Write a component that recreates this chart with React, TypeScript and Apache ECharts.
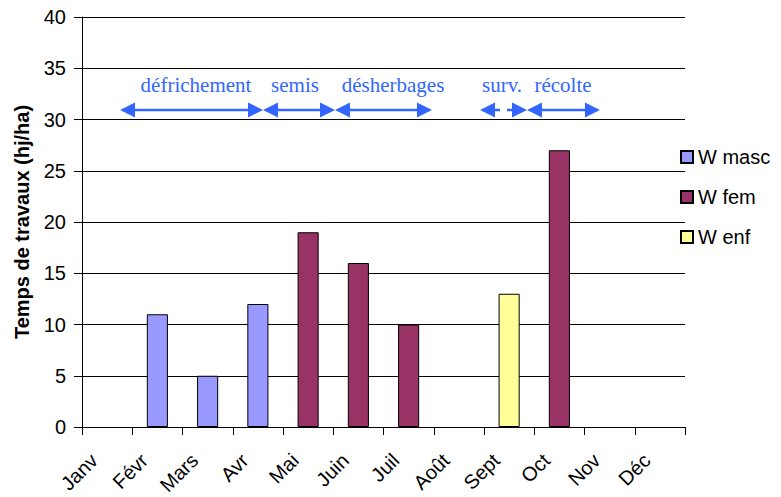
import React, { useEffect, useRef } from "react";
import * as echarts from "echarts";

const months = ["Janv", "Févr", "Mars", "Avr", "Mai", "Juin", "Juil", "Août", "Sept", "Oct", "Nov", "Déc"];
const wMasc = [null, 11, 5, 12, null, null, null, null, null, null, null, null];
const wFem = [null, null, null, null, 19, 16, 10, null, null, 27, null, null];
const wEnf = [null, null, null, null, null, null, null, null, 13, null, null, null];
const yTicks = { min: 0, max: 40, interval: 5 };

const BLUE = "#3366FF";
const FONT = "Arial, 'Liberation Sans', sans-serif";

function arrowHead(x: number, y: number, dir: 1 | -1) {
  return {
    type: "polygon",
    shape: { points: [[x, y], [x - dir * 15, y - 7.5], [x - dir * 15, y + 7.5]] },
    style: { fill: BLUE },
    silent: true,
  };
}

function seg(x1: number, x2: number, y: number) {
  return {
    type: "line",
    shape: { x1, y1: y, x2, y2: y },
    style: { stroke: BLUE, lineWidth: 2.5 },
    silent: true,
  };
}

function doubleArrow(x1: number, x2: number, y: number, gap?: [number, number]) {
  const lines = gap ? [seg(x1 + 10, gap[0], y), seg(gap[1], x2 - 10, y)] : [seg(x1 + 10, x2 - 10, y)];
  return [...lines, arrowHead(x1, y, -1), arrowHead(x2, y, 1)];
}

function label(text: string, cx: number, cy: number) {
  return {
    type: "text",
    x: cx,
    y: cy,
    style: {
      text,
      fill: BLUE,
      font: "21px 'Liberation Serif', 'Times New Roman', serif",
      textAlign: "center",
      textVerticalAlign: "middle",
    },
    silent: true,
  };
}

export default function App() {
  const ref = useRef<HTMLDivElement>(null);
  useEffect(() => {
    if (!ref.current) return;
    const chart = echarts.init(ref.current, null, { renderer: "svg" });
    const ay = 110;
    const barCommon = {
      type: "bar",
      stack: "s",
      barWidth: "42%",
      itemStyle: { borderColor: "#000", borderWidth: 1 },
    };
    const annotations = [
      ...doubleArrow(120, 263, ay),
      ...doubleArrow(263, 335, ay),
      ...doubleArrow(335, 432, ay),
      ...doubleArrow(480, 527, ay, [500, 507]),
      ...doubleArrow(527, 600, ay),
      label("défrichement", 196, 85),
      label("semis", 295, 85),
      label("désherbages", 393, 85),
      label("surv.", 502, 85),
      label("récolte", 563, 85),
    ];
    chart.setOption({
      animation: false,
      backgroundColor: "#fff",
      textStyle: { fontFamily: FONT },
      grid: { left: 82, top: 17, width: 603, height: 410, containLabel: false },
      legend: {
        orient: "vertical",
        left: 675,
        top: 142,
        itemGap: 20,
        itemWidth: 12,
        itemHeight: 12,
        icon: "rect",
        textStyle: { fontFamily: FONT, fontSize: 20, color: "#000" },
        data: ["W masc", "W fem", "W enf"],
      },
      xAxis: {
        type: "category",
        data: months,
        boundaryGap: true,
        axisLine: { lineStyle: { color: "#000", width: 1 } },
        axisTick: { show: true, alignWithLabel: false, length: 8, lineStyle: { color: "#000" } },
        axisLabel: { show: false },
        splitLine: { show: false },
      },
      yAxis: {
        type: "value",
        min: yTicks.min,
        max: yTicks.max,
        interval: yTicks.interval,
        name: "Temps de travaux (hj/ha)",
        nameLocation: "middle",
        nameGap: 50,
        nameTextStyle: { fontFamily: FONT, fontSize: 20, fontWeight: "bold", color: "#000" },
        axisLine: { show: true, lineStyle: { color: "#000", width: 1 } },
        axisTick: { show: true, length: 8, lineStyle: { color: "#000" } },
        axisLabel: { fontSize: 20, color: "#000", fontFamily: FONT, margin: 16 },
        splitLine: { show: true, lineStyle: { color: "#000", width: 1 } },
      },
      series: [
        { ...barCommon, name: "W masc", data: wMasc, itemStyle: { ...barCommon.itemStyle, color: "#9999FF" } },
        { ...barCommon, name: "W fem", data: wFem, itemStyle: { ...barCommon.itemStyle, color: "#993366" } },
        { ...barCommon, name: "W enf", data: wEnf, itemStyle: { ...barCommon.itemStyle, color: "#FFFF99" } },
      ],
      graphic: annotations,
    });
    // Month labels rotated 45°, anchored on the category axis scale
    const monthLabels = months.map((m, i) => {
      const p = chart.convertToPixel({ gridIndex: 0 }, [i, 0]) as number[];
      return {
        type: "text",
        x: p[0] - 13,
        y: p[1] + 30,
        rotation: Math.PI / 4,
        style: {
          text: m,
          fill: "#000",
          font: "20px Arial, 'Liberation Sans', sans-serif",
          textAlign: "right",
          textVerticalAlign: "middle",
        },
        silent: true,
      };
    });
    chart.setOption({ graphic: [...annotations, ...monthLabels] });
    return () => chart.dispose();
  }, []);
  return (
    <div
      ref={ref}
      style={{ position: "fixed", left: 0, top: 0, width: 781, height: 497, background: "#fff" }}
    />
  );
}
